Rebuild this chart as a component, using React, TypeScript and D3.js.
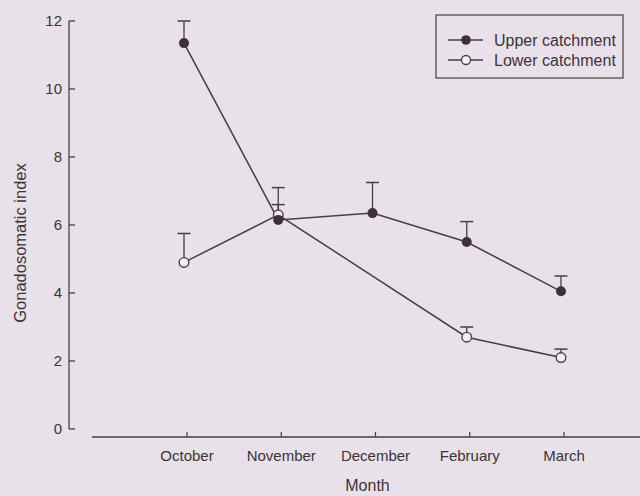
import { useEffect, useRef } from 'react';
import * as d3 from 'd3';

const months = ['October', 'November', 'December', 'February', 'March'];
const upperMean = [11.35, 6.15, 6.35, 5.5, 4.05];
const upperErr = [0.65, 0.95, 0.9, 0.6, 0.45];
const lowerMonths = ['October', 'November', 'February', 'March'];
const lowerMean = [4.9, 6.3, 2.7, 2.1];
const lowerErr = [0.85, 0.3, 0.3, 0.25];
const yTicks = [0, 2, 4, 6, 8, 10, 12];

const WIDTH = 640;
const HEIGHT = 496;
const BG = '#e9e1ea';
const INK = '#4a3c43';
const TEXT = '#3b3338';
const FONT = '"Liberation Sans", Arial, sans-serif';

export default function App() {
  const svgRef = useRef<SVGSVGElement>(null);

  useEffect(() => {
    if (!svgRef.current) return;
    const svg = d3.select(svgRef.current);
    svg.selectAll('*').remove();

    svg.append('rect').attr('width', WIDTH).attr('height', HEIGHT).attr('fill', BG);

    const x = d3.scalePoint<string>().domain(months).range([187, 564]);
    const y = d3.scaleLinear().domain([0, 12]).range([429, 21]);
    const markOffset = -3; // points sit slightly left of the tick marks
    const mx = (m: string) => (x(m) as number) + markOffset;

    // Y axis
    svg.append('line')
      .attr('x1', 69).attr('x2', 69)
      .attr('y1', y(12)).attr('y2', y(0))
      .attr('stroke', INK).attr('stroke-width', 1.3);
    yTicks.forEach((t) => {
      svg.append('line')
        .attr('x1', 69).attr('x2', 75)
        .attr('y1', y(t)).attr('y2', y(t))
        .attr('stroke', INK).attr('stroke-width', 1.3);
      svg.append('text')
        .attr('x', 62).attr('y', y(t) + 5)
        .attr('text-anchor', 'end')
        .attr('font-size', 15)
        .attr('fill', TEXT)
        .text(t);
    });

    // X axis (detached below zero)
    const axisY = 437;
    svg.append('line')
      .attr('x1', 92).attr('x2', WIDTH)
      .attr('y1', axisY).attr('y2', axisY)
      .attr('stroke', INK).attr('stroke-width', 1.3);
    months.forEach((m) => {
      svg.append('line')
        .attr('x1', x(m)!).attr('x2', x(m)!)
        .attr('y1', axisY).attr('y2', axisY - 5)
        .attr('stroke', INK).attr('stroke-width', 1.2);
      svg.append('text')
        .attr('x', x(m)!).attr('y', axisY + 24)
        .attr('text-anchor', 'middle')
        .attr('font-size', 15)
        .attr('fill', TEXT)
        .text(m);
    });

    // Axis titles
    svg.append('text')
      .attr('x', x('December')! - 8).attr('y', 491)
      .attr('text-anchor', 'middle')
      .attr('font-size', 16)
      .attr('fill', TEXT)
      .text('Month');
    svg.append('text')
      .attr('transform', 'translate(26,243) rotate(-90)')
      .attr('text-anchor', 'middle')
      .attr('font-size', 16.5)
      .attr('fill', TEXT)
      .text('Gonadosomatic index');

    // Series
    const line = d3.line<[string, number]>()
      .x((d) => mx(d[0]))
      .y((d) => y(d[1]));

    const drawErr = (m: string, v: number, e: number) => {
      svg.append('line')
        .attr('x1', mx(m)).attr('x2', mx(m))
        .attr('y1', y(v)).attr('y2', y(v + e))
        .attr('stroke', INK).attr('stroke-width', 1.3);
      svg.append('line')
        .attr('x1', mx(m) - 6.5).attr('x2', mx(m) + 6.5)
        .attr('y1', y(v + e)).attr('y2', y(v + e))
        .attr('stroke', INK).attr('stroke-width', 1.5);
    };

    months.forEach((m, i) => drawErr(m, upperMean[i], upperErr[i]));
    lowerMonths.forEach((m, i) => drawErr(m, lowerMean[i], lowerErr[i]));

    svg.append('path')
      .datum(months.map((m, i) => [m, upperMean[i]] as [string, number]))
      .attr('d', line)
      .attr('fill', 'none')
      .attr('stroke', INK)
      .attr('stroke-width', 1.5);
    svg.append('path')
      .datum(lowerMonths.map((m, i) => [m, lowerMean[i]] as [string, number]))
      .attr('d', line)
      .attr('fill', 'none')
      .attr('stroke', INK)
      .attr('stroke-width', 1.5);

    lowerMonths.forEach((m, i) => {
      svg.append('circle')
        .attr('cx', mx(m)).attr('cy', y(lowerMean[i]))
        .attr('r', 4.8)
        .attr('fill', '#f4f1f5')
        .attr('stroke', INK).attr('stroke-width', 1.4);
    });
    months.forEach((m, i) => {
      svg.append('circle')
        .attr('cx', mx(m)).attr('cy', y(upperMean[i]))
        .attr('r', 5)
        .attr('fill', '#3e3036');
    });

    // Legend
    const lg = svg.append('g');
    lg.append('rect')
      .attr('x', 436).attr('y', 15)
      .attr('width', 187).attr('height', 63)
      .attr('fill', 'none')
      .attr('stroke', INK).attr('stroke-width', 1.2);
    [
      { label: 'Upper catchment', filled: true, cy: 40 },
      { label: 'Lower catchment', filled: false, cy: 60 },
    ].forEach((d) => {
      lg.append('line')
        .attr('x1', 448).attr('x2', 483)
        .attr('y1', d.cy).attr('y2', d.cy)
        .attr('stroke', INK).attr('stroke-width', 1.4);
      lg.append('circle')
        .attr('cx', 466).attr('cy', d.cy)
        .attr('r', d.filled ? 4.8 : 4.5)
        .attr('fill', d.filled ? '#3e3036' : '#f4f1f5')
        .attr('stroke', d.filled ? 'none' : INK)
        .attr('stroke-width', 1.3);
      lg.append('text')
        .attr('x', 494).attr('y', d.cy + 6)
        .attr('font-size', 16)
        .attr('fill', TEXT)
        .text(d.label);
    });
  }, []);

  return (
    <div style={{ position: 'fixed', left: 0, top: 0 }}>
      <svg
        ref={svgRef}
        width={WIDTH}
        height={HEIGHT}
        style={{ display: 'block', fontFamily: FONT }}
      />
    </div>
  );
}
